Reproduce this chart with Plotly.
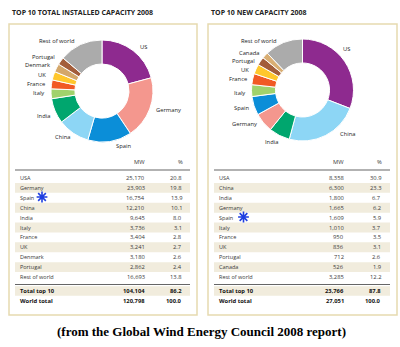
import plotly.graph_objects as go

W, H = 400, 347

# ---------------- data ----------------
left_title = "TOP 10 TOTAL INSTALLED CAPACITY 2008"
right_title = "TOP 10 NEW CAPACITY 2008"

left_pie_labels = ["US", "Germany", "Spain", "China", "India", "Italy", "France", "UK",
                   "Denmark", "Portugal", "Rest of world"]
left_pie_values = [25170, 23903, 16754, 12210, 9645, 3736, 3404, 3241, 3180, 2862, 16693]

right_pie_labels = ["US", "China", "India", "Germany", "Spain", "Italy", "France", "UK",
                    "Portugal", "Canada", "Rest of world"]
right_pie_values = [8358, 6300, 1800, 1665, 1609, 1010, 950, 836, 712, 526, 3285]

left_tab_names = ["USA", "Germany", "Spain", "China", "India", "Italy", "France", "UK",
                  "Denmark", "Portugal", "Rest of world"]
left_tab_mw = ["25,170", "23,903", "16,754", "12,210", "9,645", "3,736", "3,404", "3,241",
               "3,180", "2,862", "16,693"]
left_tab_pct = ["20.8", "19.8", "13.9", "10.1", "8.0", "3.1", "2.8", "2.7", "2.6", "2.4", "13.8"]
left_tot_mw = ["104,104", "120,798"]
left_tot_pct = ["86.2", "100.0"]

right_tab_names = ["USA", "China", "India", "Germany", "Spain", "Italy", "France", "UK",
                   "Portugal", "Canada", "Rest of world"]
right_tab_mw = ["8,358", "6,300", "1,800", "1,665", "1,609", "1,010", "950", "836",
                "712", "526", "3,285"]
right_tab_pct = ["30.9", "23.3", "6.7", "6.2", "5.9", "3.7", "3.5", "3.1", "2.6", "1.9", "12.2"]
right_tot_mw = ["23,766", "27,051"]
right_tot_pct = ["87.8", "100.0"]

total_names = ["Total top 10", "World total"]
footer = "(from the Global Wind Energy Council 2008 report)"

# ---------------- styles ----------------
COLORS = {"US": "#8E2A8F", "Germany": "#F4978E", "Spain": "#0B8ED8", "China": "#8DD6F5",
          "India": "#00A66E", "Italy": "#A0D26C", "France": "#F15A24", "UK": "#FFC72C",
          "Denmark": "#D4A76A", "Portugal": "#A35D3A", "Canada": "#D9AE73",
          "Rest of world": "#ABABAB"}
FONT = "Open Sans"
BOX_COL = "#E6DAB0"
SHADE = "#F1ECDD"
TXT = "#3a3a3a"

left_label_pos = {"Rest of world": (57, 41), "US": (143, 47), "Germany": (168, 110),
                  "Spain": (123, 146), "China": (62, 137), "India": (43, 116),
                  "Italy": (38, 93), "France": (36, 84), "UK": (42, 75),
                  "Denmark": (37, 65), "Portugal": (43, 57)}
right_label_pos = {"Rest of world": (259, 41), "US": (346, 49), "China": (347, 134),
                   "India": (271, 142), "Germany": (244, 124), "Spain": (241, 108),
                   "Italy": (239, 93), "France": (238, 79), "UK": (245, 70),
                   "Portugal": (243, 61), "Canada": (249, 53)}

fig = go.Figure()


def add_pie(labels, values, cx, cy, r):
    fig.add_trace(go.Pie(
        labels=labels, values=values, sort=False, direction="clockwise", rotation=0,
        hole=0.53, textinfo="none", hoverinfo="label+value",
        marker=dict(colors=[COLORS[l] for l in labels], line=dict(color="white", width=1)),
        domain=dict(x=[(cx - r) / W, (cx + r) / W], y=[1 - (cy + r) / H, 1 - (cy - r) / H]),
        showlegend=False))


add_pie(left_pie_labels, left_pie_values, 102, 91, 51)
add_pie(right_pie_labels, right_pie_values, 302.5, 90, 51)

# hidden pixel-coordinate axes
fig.add_trace(go.Scatter(x=[42, 243.5], y=[197, 217], mode="markers",
                         marker=dict(symbol="asterisk-open", size=9, color="#1F3FE0",
                                     line=dict(color="#1F3FE0", width=1.6)),
                         showlegend=False, hoverinfo="skip"))

shapes = []
ann = []


def txt(x, y, s, size=5.8, anchor="left", color=TXT, bold=False, family=FONT):
    ann.append(dict(x=x, y=y, xref="x", yref="y", text=f"<b>{s}</b>" if bold else s,
                    showarrow=False, xanchor=anchor, yanchor="middle",
                    font=dict(size=size, color=color, family=family)))


def panel(x0, x1, title, names, mw, pct, tot_mw, tot_pct, label_pos):
    txt(x0 + 1, 12, title, size=7, bold=True, color="#222")
    shapes.append(dict(type="rect", xref="x", yref="y", x0=x0, x1=x1, y0=24, y1=315,
                       line=dict(color=BOX_COL, width=1.5), fillcolor="rgba(0,0,0,0)"))
    lx0, lx1 = x0 + 6, x1 - 7
    xname, xmw, xpct = x0 + 9, x0 + 138, x0 + 175
    txt(xmw - 8, 162, "MW", anchor="center")
    txt(xpct - 4, 162, "%", anchor="center")
    step = 9.9
    for i, (n, m, p) in enumerate(zip(names, mw, pct)):
        y = 178 + i * step
        if i % 2 == 1:
            shapes.append(dict(type="rect", xref="x", yref="y", x0=lx0, x1=lx1,
                               y0=y - step / 2, y1=y + step / 2, line=dict(width=0),
                               fillcolor=SHADE, layer="below"))
        txt(xname, y, n, size=5.5)
        txt(xmw, y, m, anchor="right")
        txt(xpct, y, p, anchor="right")
    for yl in (170, 284.5):
        shapes.append(dict(type="line", xref="x", yref="y", x0=lx0, x1=lx1, y0=yl, y1=yl,
                           line=dict(color="#666", width=1.2)))
    for i, (n, m, p) in enumerate(zip(total_names, tot_mw, tot_pct)):
        y = 291 + i * 9.5
        if i == 0:
            shapes.append(dict(type="rect", xref="x", yref="y", x0=lx0, x1=lx1,
                               y0=y - 4.8, y1=y + 4.8, line=dict(width=0),
                               fillcolor=SHADE, layer="below"))
        txt(xname, y, n, bold=True, color="#111")
        txt(xmw, y, m, anchor="right", bold=True, color="#111")
        txt(xpct, y, p, anchor="right", bold=True, color="#111")
    for lab, (lx, ly) in label_pos.items():
        txt(lx, ly, lab, anchor="center", size=5.8, color="#222")


panel(9, 197, left_title, left_tab_names, left_tab_mw, left_tab_pct,
      left_tot_mw, left_tot_pct, left_label_pos)
panel(208, 397, right_title, right_tab_names, right_tab_mw, right_tab_pct,
      right_tot_mw, right_tot_pct, right_label_pos)

txt(201, 331, footer, size=13, anchor="center", bold=True, color="#000",
    family="Liberation Serif")

fig.update_layout(
    width=W, height=H, margin=dict(l=0, r=0, t=0, b=0),
    paper_bgcolor="white", plot_bgcolor="rgba(0,0,0,0)",
    xaxis=dict(range=[0, W], visible=False, domain=[0, 1], fixedrange=True),
    yaxis=dict(range=[H, 0], visible=False, domain=[0, 1], fixedrange=True),
    shapes=shapes, annotations=ann,
)

fig.write_html("out.html")
